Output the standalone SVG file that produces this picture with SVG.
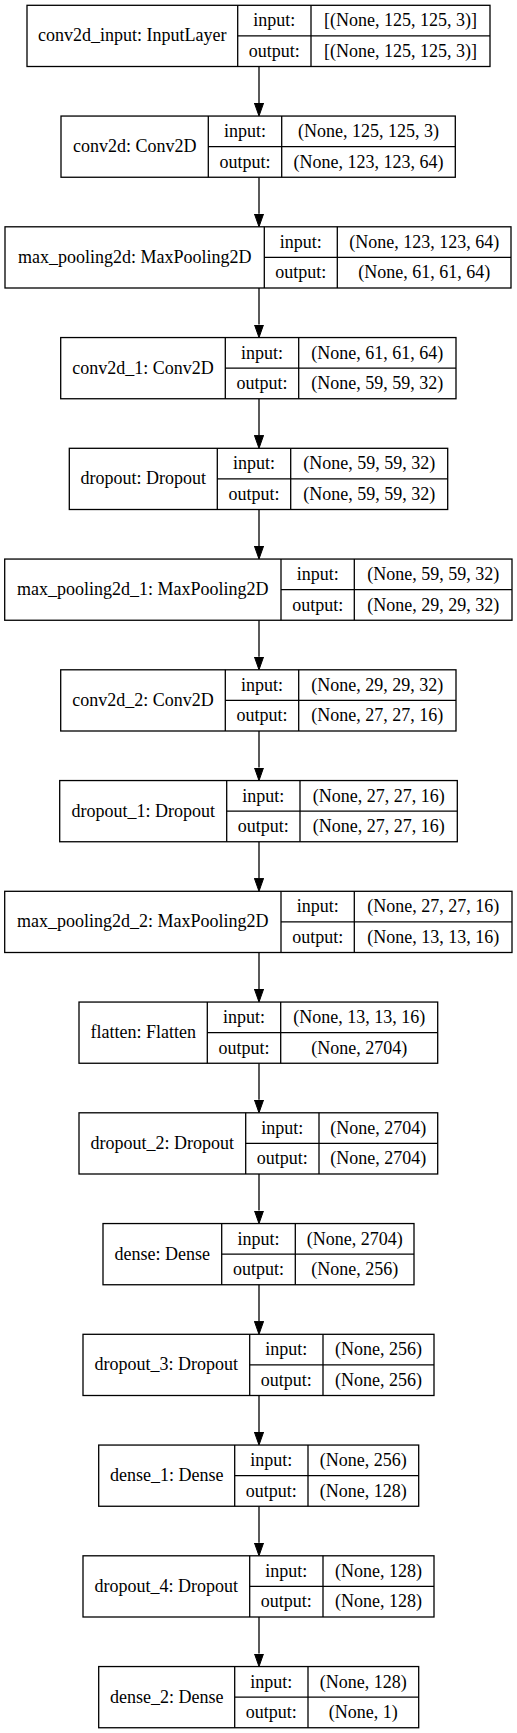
<svg xmlns="http://www.w3.org/2000/svg" width="517" height="1733" viewBox="0 0 517 1733">
<style>
.bg{fill:#ffffff}
.box rect{fill:#ffffff;stroke:#000;stroke-width:1.3}
.box line{stroke:#000;stroke-width:1.3}
.box text{font-family:"Liberation Serif","Times New Roman",serif;font-size:18px;fill:#000;text-anchor:middle}
.edge{stroke:#000;stroke-width:1.3;fill:none;marker-end:url(#arr)}
</style>
<defs>
<marker id="arr" viewBox="0 0 13 10" refX="0" refY="5" markerWidth="13" markerHeight="10" markerUnits="userSpaceOnUse" orient="auto">
<path d="M0,0.4 L13,5 L0,9.6 Z" fill="#000" stroke="#000" stroke-width="1"/>
</marker>
</defs>
<rect class="bg" x="0" y="0" width="517" height="1733"/>
<g id="edges">
<line class="edge" x1="259" y1="66.5" x2="259" y2="103.05"/>
<line class="edge" x1="259" y1="177.25" x2="259" y2="213.8"/>
<line class="edge" x1="259" y1="288" x2="259" y2="324.55"/>
<line class="edge" x1="259" y1="398.75" x2="259" y2="435.3"/>
<line class="edge" x1="259" y1="509.5" x2="259" y2="546.05"/>
<line class="edge" x1="259" y1="620.25" x2="259" y2="656.8"/>
<line class="edge" x1="259" y1="731" x2="259" y2="767.55"/>
<line class="edge" x1="259" y1="841.75" x2="259" y2="878.3"/>
<line class="edge" x1="259" y1="952.5" x2="259" y2="989.05"/>
<line class="edge" x1="259" y1="1063.25" x2="259" y2="1099.8"/>
<line class="edge" x1="259" y1="1174" x2="259" y2="1210.55"/>
<line class="edge" x1="259" y1="1284.75" x2="259" y2="1321.3"/>
<line class="edge" x1="259" y1="1395.5" x2="259" y2="1432.05"/>
<line class="edge" x1="259" y1="1506.25" x2="259" y2="1542.8"/>
<line class="edge" x1="259" y1="1617" x2="259" y2="1653.55"/>
</g>

<g id="conv2d_input" class="box" transform="translate(0,5.3)">
<rect x="27" y="0" width="463" height="61.2"/>
<line x1="237.7" y1="0" x2="237.7" y2="61.2"/><line x1="311" y1="0" x2="311" y2="61.2"/><line x1="237.7" y1="30.6" x2="490" y2="30.6"/>
<text x="132.35" y="36">conv2d_input: InputLayer</text>
<text x="274.35" y="21">input:</text><text x="274.35" y="51.5">output:</text>
<text x="400.5" y="21">[(None, 125, 125, 3)]</text><text x="400.5" y="51.5">[(None, 125, 125, 3)]</text>
</g>

<g id="conv2d" class="box" transform="translate(0,116.05)">
<rect x="61" y="0" width="394.3" height="61.2"/>
<line x1="208.3" y1="0" x2="208.3" y2="61.2"/><line x1="281.7" y1="0" x2="281.7" y2="61.2"/><line x1="208.3" y1="30.6" x2="455.3" y2="30.6"/>
<text x="134.65" y="36">conv2d: Conv2D</text>
<text x="245" y="21">input:</text><text x="245" y="51.5">output:</text>
<text x="368.5" y="21">(None, 125, 125, 3)</text><text x="368.5" y="51.5">(None, 123, 123, 64)</text>
</g>

<g id="max_pooling2d" class="box" transform="translate(0,226.8)">
<rect x="5" y="0" width="506" height="61.2"/>
<line x1="264.3" y1="0" x2="264.3" y2="61.2"/><line x1="337.3" y1="0" x2="337.3" y2="61.2"/><line x1="264.3" y1="30.6" x2="511" y2="30.6"/>
<text x="134.65" y="36">max_pooling2d: MaxPooling2D</text>
<text x="300.8" y="21">input:</text><text x="300.8" y="51.5">output:</text>
<text x="424.15" y="21">(None, 123, 123, 64)</text><text x="424.15" y="51.5">(None, 61, 61, 64)</text>
</g>

<g id="conv2d_1" class="box" transform="translate(0,337.55)">
<rect x="60.7" y="0" width="395.3" height="61.2"/>
<line x1="225.3" y1="0" x2="225.3" y2="61.2"/><line x1="298.7" y1="0" x2="298.7" y2="61.2"/><line x1="225.3" y1="30.6" x2="456" y2="30.6"/>
<text x="143" y="36">conv2d_1: Conv2D</text>
<text x="262" y="21">input:</text><text x="262" y="51.5">output:</text>
<text x="377.35" y="21">(None, 61, 61, 64)</text><text x="377.35" y="51.5">(None, 59, 59, 32)</text>
</g>

<g id="dropout" class="box" transform="translate(0,448.3)">
<rect x="69.3" y="0" width="378.4" height="61.2"/>
<line x1="217.3" y1="0" x2="217.3" y2="61.2"/><line x1="290.7" y1="0" x2="290.7" y2="61.2"/><line x1="217.3" y1="30.6" x2="447.7" y2="30.6"/>
<text x="143.3" y="36">dropout: Dropout</text>
<text x="254" y="21">input:</text><text x="254" y="51.5">output:</text>
<text x="369.2" y="21">(None, 59, 59, 32)</text><text x="369.2" y="51.5">(None, 59, 59, 32)</text>
</g>

<g id="max_pooling2d_1" class="box" transform="translate(0,559.05)">
<rect x="4.7" y="0" width="507.3" height="61.2"/>
<line x1="281" y1="0" x2="281" y2="61.2"/><line x1="354.3" y1="0" x2="354.3" y2="61.2"/><line x1="281" y1="30.6" x2="512" y2="30.6"/>
<text x="142.85" y="36">max_pooling2d_1: MaxPooling2D</text>
<text x="317.65" y="21">input:</text><text x="317.65" y="51.5">output:</text>
<text x="433.15" y="21">(None, 59, 59, 32)</text><text x="433.15" y="51.5">(None, 29, 29, 32)</text>
</g>

<g id="conv2d_2" class="box" transform="translate(0,669.8)">
<rect x="60.7" y="0" width="395.3" height="61.2"/>
<line x1="225.3" y1="0" x2="225.3" y2="61.2"/><line x1="298.7" y1="0" x2="298.7" y2="61.2"/><line x1="225.3" y1="30.6" x2="456" y2="30.6"/>
<text x="143" y="36">conv2d_2: Conv2D</text>
<text x="262" y="21">input:</text><text x="262" y="51.5">output:</text>
<text x="377.35" y="21">(None, 29, 29, 32)</text><text x="377.35" y="51.5">(None, 27, 27, 16)</text>
</g>

<g id="dropout_1" class="box" transform="translate(0,780.55)">
<rect x="59.7" y="0" width="397.6" height="61.2"/>
<line x1="226.7" y1="0" x2="226.7" y2="61.2"/><line x1="300" y1="0" x2="300" y2="61.2"/><line x1="226.7" y1="30.6" x2="457.3" y2="30.6"/>
<text x="143.2" y="36">dropout_1: Dropout</text>
<text x="263.35" y="21">input:</text><text x="263.35" y="51.5">output:</text>
<text x="378.65" y="21">(None, 27, 27, 16)</text><text x="378.65" y="51.5">(None, 27, 27, 16)</text>
</g>

<g id="max_pooling2d_2" class="box" transform="translate(0,891.3)">
<rect x="4.7" y="0" width="507.3" height="61.2"/>
<line x1="281" y1="0" x2="281" y2="61.2"/><line x1="354.3" y1="0" x2="354.3" y2="61.2"/><line x1="281" y1="30.6" x2="512" y2="30.6"/>
<text x="142.85" y="36">max_pooling2d_2: MaxPooling2D</text>
<text x="317.65" y="21">input:</text><text x="317.65" y="51.5">output:</text>
<text x="433.15" y="21">(None, 27, 27, 16)</text><text x="433.15" y="51.5">(None, 13, 13, 16)</text>
</g>

<g id="flatten" class="box" transform="translate(0,1002.05)">
<rect x="79" y="0" width="358.7" height="61.2"/>
<line x1="207.3" y1="0" x2="207.3" y2="61.2"/><line x1="280.7" y1="0" x2="280.7" y2="61.2"/><line x1="207.3" y1="30.6" x2="437.7" y2="30.6"/>
<text x="143.15" y="36">flatten: Flatten</text>
<text x="244" y="21">input:</text><text x="244" y="51.5">output:</text>
<text x="359.2" y="21">(None, 13, 13, 16)</text><text x="359.2" y="51.5">(None, 2704)</text>
</g>

<g id="dropout_2" class="box" transform="translate(0,1112.8)">
<rect x="79" y="0" width="358.7" height="61.2"/>
<line x1="245.7" y1="0" x2="245.7" y2="61.2"/><line x1="319" y1="0" x2="319" y2="61.2"/><line x1="245.7" y1="30.6" x2="437.7" y2="30.6"/>
<text x="162.35" y="36">dropout_2: Dropout</text>
<text x="282.35" y="21">input:</text><text x="282.35" y="51.5">output:</text>
<text x="378.35" y="21">(None, 2704)</text><text x="378.35" y="51.5">(None, 2704)</text>
</g>

<g id="dense" class="box" transform="translate(0,1223.55)">
<rect x="103" y="0" width="311" height="61.2"/>
<line x1="221.7" y1="0" x2="221.7" y2="61.2"/><line x1="295.3" y1="0" x2="295.3" y2="61.2"/><line x1="221.7" y1="30.6" x2="414" y2="30.6"/>
<text x="162.35" y="36">dense: Dense</text>
<text x="258.5" y="21">input:</text><text x="258.5" y="51.5">output:</text>
<text x="354.65" y="21">(None, 2704)</text><text x="354.65" y="51.5">(None, 256)</text>
</g>

<g id="dropout_3" class="box" transform="translate(0,1334.3)">
<rect x="83" y="0" width="351" height="61.2"/>
<line x1="249.7" y1="0" x2="249.7" y2="61.2"/><line x1="323" y1="0" x2="323" y2="61.2"/><line x1="249.7" y1="30.6" x2="434" y2="30.6"/>
<text x="166.35" y="36">dropout_3: Dropout</text>
<text x="286.35" y="21">input:</text><text x="286.35" y="51.5">output:</text>
<text x="378.5" y="21">(None, 256)</text><text x="378.5" y="51.5">(None, 256)</text>
</g>

<g id="dense_1" class="box" transform="translate(0,1445.05)">
<rect x="98.7" y="0" width="320" height="61.2"/>
<line x1="234.7" y1="0" x2="234.7" y2="61.2"/><line x1="308" y1="0" x2="308" y2="61.2"/><line x1="234.7" y1="30.6" x2="418.7" y2="30.6"/>
<text x="166.7" y="36">dense_1: Dense</text>
<text x="271.35" y="21">input:</text><text x="271.35" y="51.5">output:</text>
<text x="363.35" y="21">(None, 256)</text><text x="363.35" y="51.5">(None, 128)</text>
</g>

<g id="dropout_4" class="box" transform="translate(0,1555.8)">
<rect x="83" y="0" width="351" height="61.2"/>
<line x1="249.7" y1="0" x2="249.7" y2="61.2"/><line x1="323" y1="0" x2="323" y2="61.2"/><line x1="249.7" y1="30.6" x2="434" y2="30.6"/>
<text x="166.35" y="36">dropout_4: Dropout</text>
<text x="286.35" y="21">input:</text><text x="286.35" y="51.5">output:</text>
<text x="378.5" y="21">(None, 128)</text><text x="378.5" y="51.5">(None, 128)</text>
</g>

<g id="dense_2" class="box" transform="translate(0,1666.55)">
<rect x="98.7" y="0" width="320" height="61.2"/>
<line x1="234.7" y1="0" x2="234.7" y2="61.2"/><line x1="308" y1="0" x2="308" y2="61.2"/><line x1="234.7" y1="30.6" x2="418.7" y2="30.6"/>
<text x="166.7" y="36">dense_2: Dense</text>
<text x="271.35" y="21">input:</text><text x="271.35" y="51.5">output:</text>
<text x="363.35" y="21">(None, 128)</text><text x="363.35" y="51.5">(None, 1)</text>
</g>
</svg>
